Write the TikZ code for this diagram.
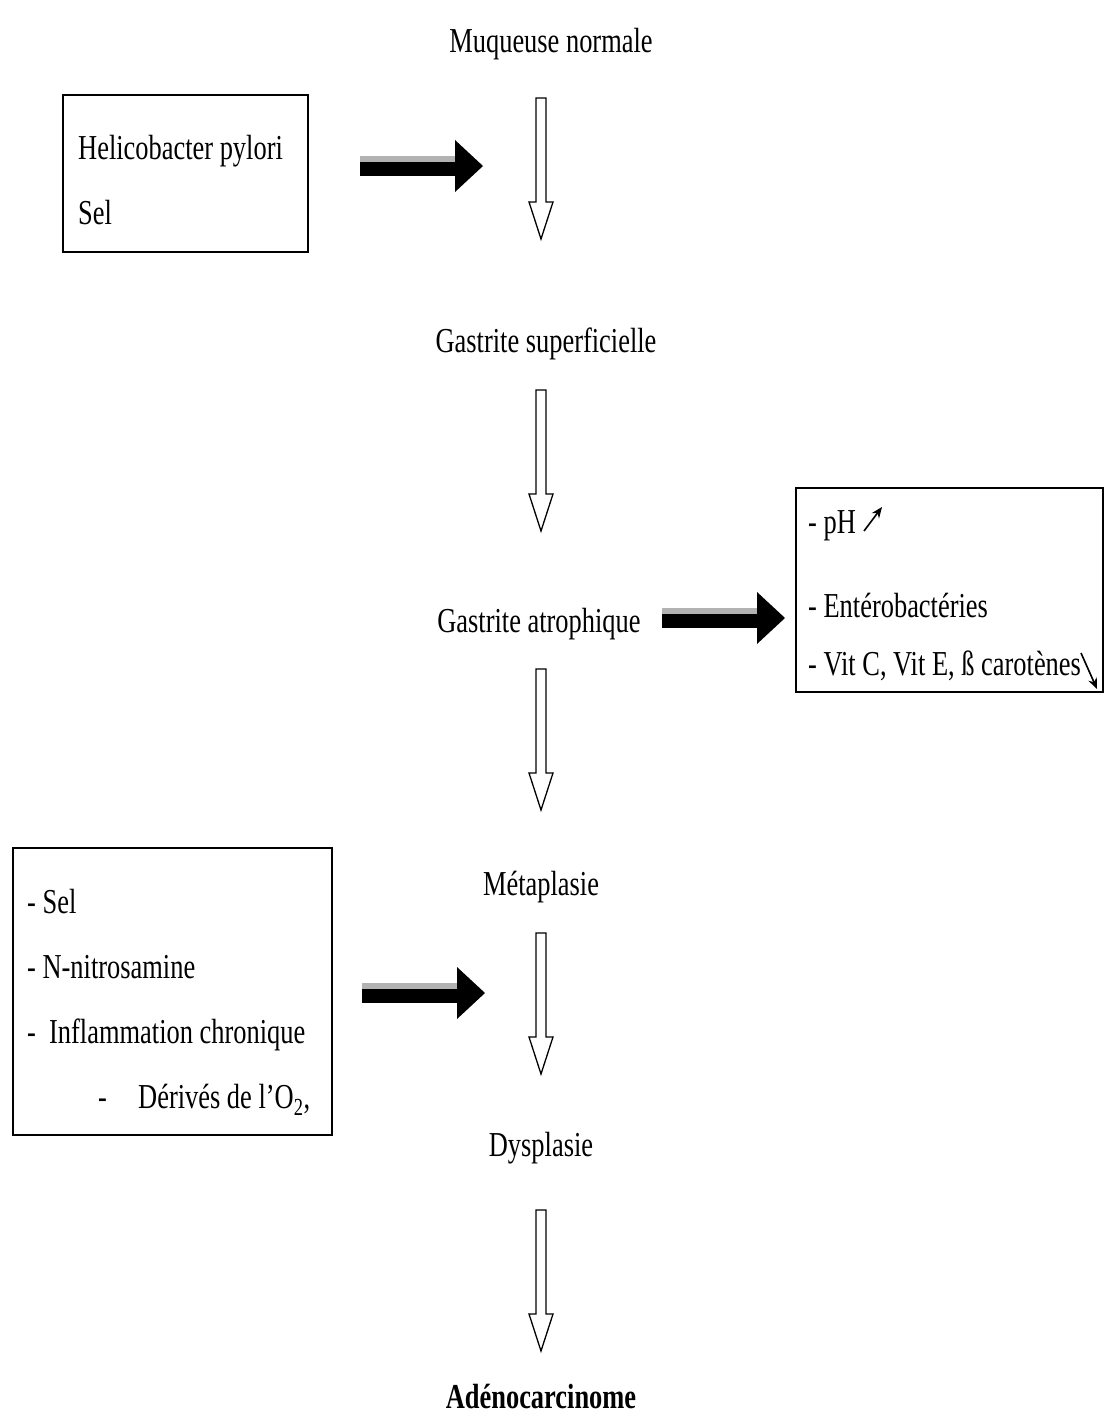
\documentclass[tikz,border=0pt]{standalone}
\usepackage{fontspec}
\setmainfont{Liberation Serif}[FakeStretch=0.755]
\usetikzlibrary{arrows.meta}
\begin{document}
\begin{tikzpicture}[x=1pt,y=-1pt,
  lbl/.style={font=\fontsize{35}{40}\selectfont, inner sep=0, anchor=base},
  item/.style={lbl, anchor=base west},
  frame/.style={draw, line width=1.8pt, inner sep=0, fill=none},
  trend/.style={line width=1.6pt, -{Stealth[length=11pt,width=9pt]}},
  pusharrow/.pic={
    \fill[black] (0,-10) rectangle (97,10);
    \fill[gray!60] (0,-10) rectangle (97,-4);
    \fill[black] (95,-26) -- (123,0) -- (95,26) -- cycle;
  },
  downarrow/.pic={
    \draw[line width=1.3pt, fill=white, line join=miter]
      (-5,0) -- (5,0) -- (5,104) -- (12,104) -- (0,141) -- (-12,104) -- (-5,104) -- cycle;
  }]
\useasboundingbox[fill=white] (0,0) rectangle (1105,1423);

% main column
\node[lbl] (muq) at (551,53) {Muqueuse normale};
\node[lbl] (gsup) at (546,352) {Gastrite superficielle};
\node[lbl] (gatr) at (539,632) {Gastrite atrophique};
\node[lbl] (meta) at (541,895) {Métaplasie};
\node[lbl] (dysp) at (541,1156) {Dysplasie};
\node[lbl, font=\fontsize{35}{40}\selectfont\bfseries] (adeno) at (541,1408) {Adénocarcinome};

% hollow down arrows
\pic (d1) at (541,98) {downarrow};
\pic (d2) at (541,390) {downarrow};
\pic (d3) at (541,669) {downarrow};
\pic (d4) at (541,933) {downarrow};
\pic (d5) at (541,1210) {downarrow};

% box 1
\node[frame, minimum width=245pt, minimum height=157pt] (box1) at (185.5,173.5) {};
\node[item] (hp) at (78,160) {Helicobacter pylori};
\node[item] (sel1) at (78,225) {Sel};
\pic (p1) at (360,166) {pusharrow};

% box 2
\node[frame, minimum width=307pt, minimum height=204pt] (box2) at (949.5,590) {};
\node[item] (ph) at (808,533) {- pH};
\coordinate (phA) at (864,531);
\coordinate (phB) at (882,507);
\draw[trend] (phA) -- (phB);
\node[item] (entero) at (808,617) {- Entérobactéries};
\node[item] (vit) at (808,675) {- Vit C, Vit E, ß carotènes};
\coordinate (vitA) at (1081,653);
\coordinate (vitB) at (1097,689);
\draw[trend] (vitA) -- (vitB);
\pic (p2) at (662,618) {pusharrow};

% box 3
\node[frame, minimum width=319pt, minimum height=287pt] (box3) at (172.5,991.5) {};
\node[item] (sel2) at (27,913) {- Sel};
\node[item] (nitro) at (27,978) {- N-nitrosamine};
\node[item] (infl) at (27,1043) {-\ \ Inflammation chronique};
\node[item] (dash4) at (98,1108) {-};
\node[item] (deriv) at (138,1108) {Dérivés de l'O\textsubscript{2},};
\pic (p3) at (362,993) {pusharrow};
\end{tikzpicture}
\end{document}
